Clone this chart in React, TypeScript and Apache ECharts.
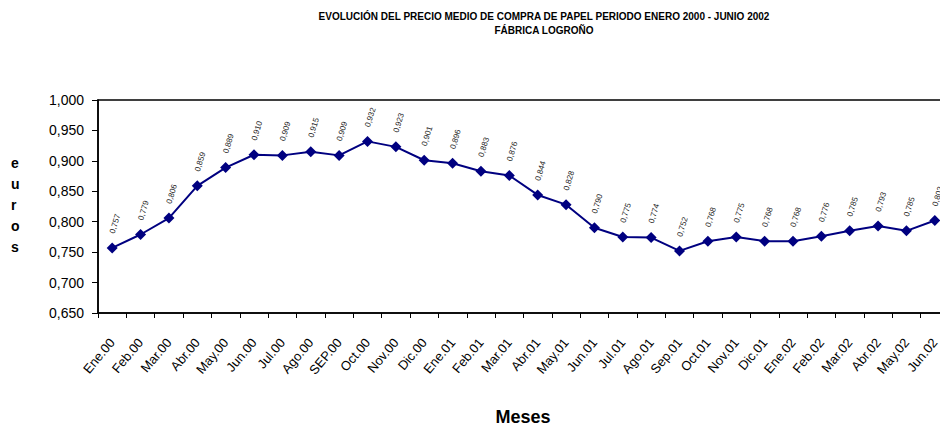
import React, { useEffect, useRef } from "react";
import * as echarts from "echarts";

const categories = [
  "Ene.00", "Feb.00", "Mar.00", "Abr.00", "May.00", "Jun.00", "Jul.00", "Ago.00", "SEP.00", "Oct.00",
  "Nov.00", "Dic.00", "Ene.01", "Feb.01", "Mar.01", "Abr.01", "May.01", "Jun.01", "Jul.01", "Ago.01",
  "Sep.01", "Oct.01", "Nov.01", "Dic.01", "Ene.02", "Feb.02", "Mar.02", "Abr.02", "May.02", "Jun.02",
];

const prices = [
  0.757, 0.779, 0.806, 0.859, 0.889, 0.910, 0.909, 0.915, 0.909, 0.932,
  0.923, 0.901, 0.896, 0.883, 0.876, 0.844, 0.828, 0.790, 0.775, 0.774,
  0.752, 0.768, 0.775, 0.768, 0.768, 0.776, 0.785, 0.793, 0.785, 0.802,
];

const titleLines = [
  "EVOLUCIÓN DEL PRECIO MEDIO DE COMPRA DE PAPEL PERIODO ENERO 2000 - JUNIO 2002",
  "FÁBRICA LOGROÑO",
];

const yName = ["e", "u", "r", "o", "s"];
const xName = "Meses";

const fmt = (v: number) => v.toFixed(3).replace(".", ",");

export default function App() {
  const ref = useRef<HTMLDivElement>(null);
  useEffect(() => {
    if (!ref.current) return;
    const chart = echarts.init(ref.current, undefined, { renderer: "svg" });
    const font = "'Liberation Sans', Arial, sans-serif";
    chart.setOption({
      animation: false,
      backgroundColor: "#ffffff",
      textStyle: { fontFamily: font },
      title: {
        text: titleLines.join("\n"),
        left: 539,
        top: 4,
        textAlign: "center",
        textStyle: { fontSize: 10, fontWeight: "bold", color: "#000", lineHeight: 14, fontFamily: font },
      },
      graphic: [
        ...yName.map((ch, i) => ({
          type: "text",
          left: 11,
          top: 156 + i * 21,
          style: { text: ch, fontSize: 14, fontWeight: "bold", fill: "#000", fontFamily: font },
        })),
        {
          type: "text",
          x: 523,
          y: 417,
          style: {
            text: xName,
            fontSize: 18,
            fontWeight: "bold",
            fill: "#000",
            fontFamily: font,
            align: "center",
            verticalAlign: "middle",
          },
        },
      ],
      grid: {
        left: 98,
        top: 100,
        width: 851,
        height: 213,
        show: true,
        borderColor: "#000",
        borderWidth: 1.5,
        backgroundColor: "transparent",
        containLabel: false,
        outerBoundsMode: "none",
      },
      xAxis: {
        type: "category",
        data: categories,
        boundaryGap: true,
        axisLine: { lineStyle: { color: "#000", width: 1.5 } },
        axisTick: { show: true, interval: 0, length: 5, lineStyle: { color: "#000" } },
        axisLabel: { interval: 0, rotate: 50, fontSize: 13, color: "#000", margin: 27, fontFamily: font },
        splitLine: { show: false },
      },
      yAxis: {
        type: "value",
        min: 0.65,
        max: 1.0,
        interval: 0.05,
        axisLine: { show: true, lineStyle: { color: "#000", width: 1.5 } },
        axisTick: { show: true, length: 6, lineStyle: { color: "#000" } },
        axisLabel: { fontSize: 14, color: "#000", margin: 14, formatter: (v: number) => fmt(v), fontFamily: font },
        splitLine: { show: false },
      },
      series: [
        {
          type: "line",
          data: prices,
          symbol: "diamond",
          symbolSize: 11,
          itemStyle: { color: "#000080" },
          lineStyle: { color: "#000080", width: 2 },
          label: {
            show: true,
            position: "top",
            distance: 9,
            rotate: 73,
            align: "left",
            verticalAlign: "middle",
            fontSize: 8,
            color: "#222",
            fontFamily: font,
            formatter: (p: any) => fmt(p.value),
          },
        },
      ],
    });
    return () => chart.dispose();
  }, []);
  return <div ref={ref} style={{ position: "fixed", left: 0, top: 0, width: 940, height: 428 }} />;
}
